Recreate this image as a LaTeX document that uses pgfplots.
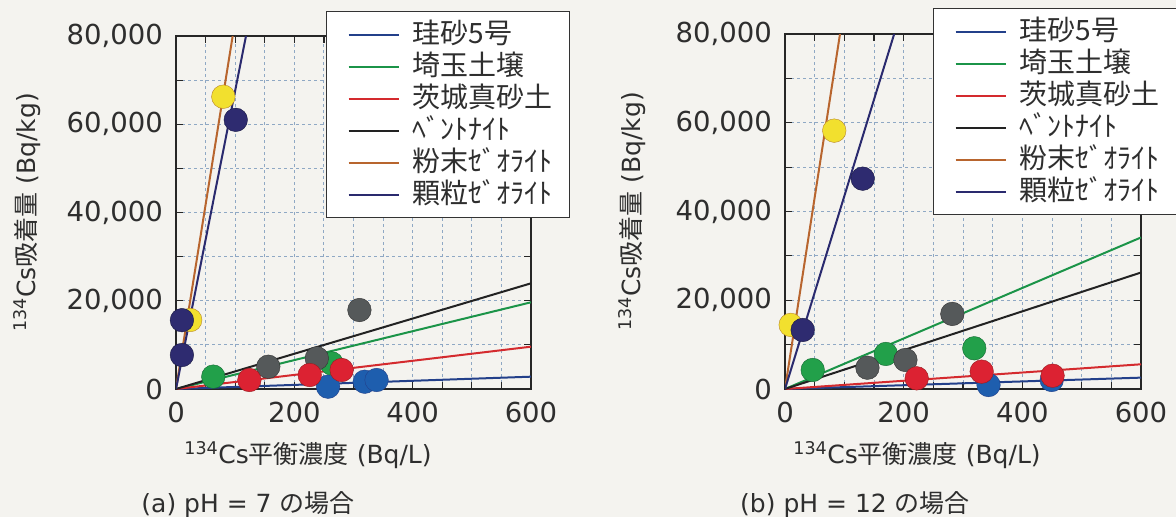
\documentclass[border=0pt]{standalone}
\usepackage{fontspec}
\setmainfont{DejaVu Sans}
\newfontfamily\jp{Noto Sans CJK JP}
\usepackage{pgfplots}
\pgfplotsset{compat=1.18}
\definecolor{bg}{HTML}{F4F3EF}
\definecolor{txt}{HTML}{2E2E2E}
\definecolor{gridc}{HTML}{8FA8C4}
\definecolor{sandL}{HTML}{23408A}
\definecolor{sandM}{HTML}{1E5EAE}
\definecolor{grnL}{HTML}{1B9448}
\definecolor{grnM}{HTML}{22A04A}
\definecolor{redL}{HTML}{D42A2E}
\definecolor{redM}{HTML}{DC2232}
\definecolor{bentL}{HTML}{222222}
\definecolor{bentM}{HTML}{55595A}
\definecolor{powL}{HTML}{B8652E}
\definecolor{powM}{HTML}{F2E02E}
\definecolor{powE}{HTML}{B8862A}
\definecolor{graL}{HTML}{2A2A6E}
\definecolor{graM}{HTML}{2E2B70}
\pgfplotsset{
  mystyle/.style={
    scale only axis,
    anchor=south west,
    xmin=0, xmax=600, ymin=0, ymax=80000,
    xtick={0,200,400,600}, ytick={0,20000,40000,60000,80000},
    minor x tick num=3, minor y tick num=1,
    scaled y ticks=false,
    grid=both,
    major grid style={gridc, dashed, line width=1pt},
    minor grid style={gridc, dashed, line width=1pt},
    axis line style={black!85, line width=1.6pt},
    tick style={black!85, line width=1.2pt},
    major tick length=7pt, minor tick length=7pt,
    tick align=inside,
    /pgf/number format/assume math mode=true,
    /pgf/number format/1000 sep={,},
    tick label style={font=\fontsize{27.5}{30}\selectfont, text=txt},
    xticklabel style={inner sep=0pt, yshift=-13pt},
    yticklabel style={inner sep=0pt, xshift=-13pt},
    label style={font=\fontsize{25}{30}\selectfont, text=txt},
    legend image code/.code={\path (0pt,0pt); \draw[##1, line width=2pt] (4pt,0pt) -- (54pt,0pt);},
    legend style={anchor=north west, draw=black!80, line width=1.4pt, fill=white,
       font=\jp\fontsize{28}{30}\selectfont, text=txt,
       inner xsep=17pt, inner ysep=7pt, row sep=0pt, column sep=13pt,
       nodes={inner xsep=0pt, inner ysep=2pt, text height=23pt, text depth=5pt}},
    legend cell align=left,
  },
  fitline/.style={line width=2pt},
  dot/.style={only marks, mark=*, mark size=11.8pt, mark options={line width=1.1pt}},
}
\begin{document}
\begin{tikzpicture}[x=1pt,y=1pt]
\fill[bg] (0,0) rectangle (1176,517);
\useasboundingbox (0,0) rectangle (1176,517);
% (a) pH = 7
\begin{axis}[mystyle, at={(176pt,128pt)}, width=355pt, height=353pt,
  legend style={at={(axis description cs:0.4225,1.071)}},
  xlabel={\textsuperscript{134}Cs{\jp 平衡濃度} (Bq/L)},
  ylabel={\textsuperscript{134}Cs{\jp 吸着量} (Bq/kg)},
  xlabel style={at={(axis description cs:0.372,-0.187)}, anchor=center},
  ylabel style={at={(axis description cs:-0.42,0.5)}, anchor=center}]
\addplot[fitline, sandL] coordinates {(0,0) (600,2790)};
\addlegendentry{珪砂5号}
\addplot[fitline, grnL] coordinates {(0,0) (600,19650)};
\addlegendentry{埼玉土壌}
\addplot[fitline, redL] coordinates {(0,0) (600,9590)};
\addlegendentry{茨城真砂土}
\addplot[fitline, bentL] coordinates {(0,0) (600,23950)};
\addlegendentry{ﾍﾞﾝﾄﾅｲﾄ}
\addplot[fitline, powL] coordinates {(0,0) (95.8,80000)};
\addlegendentry{粉末ｾﾞｵﾗｲﾄ}
\addplot[fitline, graL] coordinates {(0,0) (118.3,80000)};
\addlegendentry{顆粒ｾﾞｵﾗｲﾄ}
\addplot[dot, forget plot, mark options={fill=sandM, draw=sandL}] coordinates {(257,520) (319,1650) (339,2040)};
\addplot[dot, forget plot, mark options={fill=grnM, draw=grnL!70!black}] coordinates {(63,2800) (263,5800)};
\addplot[dot, forget plot, mark options={fill=bentM, draw=black!80}] coordinates {(156,5050) (238,6950) (310,17900)};
\addplot[dot, forget plot, mark options={fill=redM, draw=redL!70!black}] coordinates {(124,2040) (226,3170) (280,4300)};
\addplot[dot, forget plot, mark options={fill=powM, draw=powE}] coordinates {(24,15640) (80,66240)};
\addplot[dot, forget plot, mark options={fill=graM, draw=graL!60!black}] coordinates {(10,15600) (10,7700) (101,61000)};
\end{axis}
% (b) pH = 12
\begin{axis}[mystyle, at={(785pt,128pt)}, width=356pt, height=355pt,
  legend style={at={(axis description cs:0.4157,1.073)}},
  xlabel={\textsuperscript{134}Cs{\jp 平衡濃度} (Bq/L)},
  ylabel={\textsuperscript{134}Cs{\jp 吸着量} (Bq/kg)},
  xlabel style={at={(axis description cs:0.371,-0.186)}, anchor=center},
  ylabel style={at={(axis description cs:-0.43,0.5)}, anchor=center}]
\addplot[fitline, sandL] coordinates {(0,0) (600,2560)};
\addlegendentry{珪砂5号}
\addplot[fitline, grnL] coordinates {(0,0) (600,34150)};
\addlegendentry{埼玉土壌}
\addplot[fitline, redL] coordinates {(0,0) (600,5570)};
\addlegendentry{茨城真砂土}
\addplot[fitline, bentL] coordinates {(0,0) (600,26250)};
\addlegendentry{ﾍﾞﾝﾄﾅｲﾄ}
\addplot[fitline, powL] coordinates {(0,0) (92.7,80000)};
\addlegendentry{粉末ｾﾞｵﾗｲﾄ}
\addplot[fitline, graL] coordinates {(0,0) (184,80000)};
\addlegendentry{顆粒ｾﾞｵﾗｲﾄ}
\addplot[dot, forget plot, mark options={fill=sandM, draw=sandL}] coordinates {(343,900) (449.5,2030)};
\addplot[dot, forget plot, mark options={fill=grnM, draw=grnL!70!black}] coordinates {(46.7,4290) (170,7900) (319,9180)};
\addplot[dot, forget plot, mark options={fill=bentM, draw=black!80}] coordinates {(139,4800) (203,6540) (282,16920)};
\addplot[dot, forget plot, mark options={fill=redM, draw=redL!70!black}] coordinates {(222,2410) (331.5,3910) (451,3000)};
\addplot[dot, forget plot, mark options={fill=powM, draw=powE}] coordinates {(9.6,14440) (83,58220)};
\addplot[dot, forget plot, mark options={fill=graM, draw=graL!60!black}] coordinates {(29.8,13300) (131,47400)};
\end{axis}
\node[font=\fontsize{25}{30}\selectfont, text=txt] at (248,12) {(a) pH = 7 {\jp の場合}};
\node[font=\fontsize{25}{30}\selectfont, text=txt] at (855,12) {(b) pH = 12 {\jp の場合}};
\end{tikzpicture}
\end{document}
